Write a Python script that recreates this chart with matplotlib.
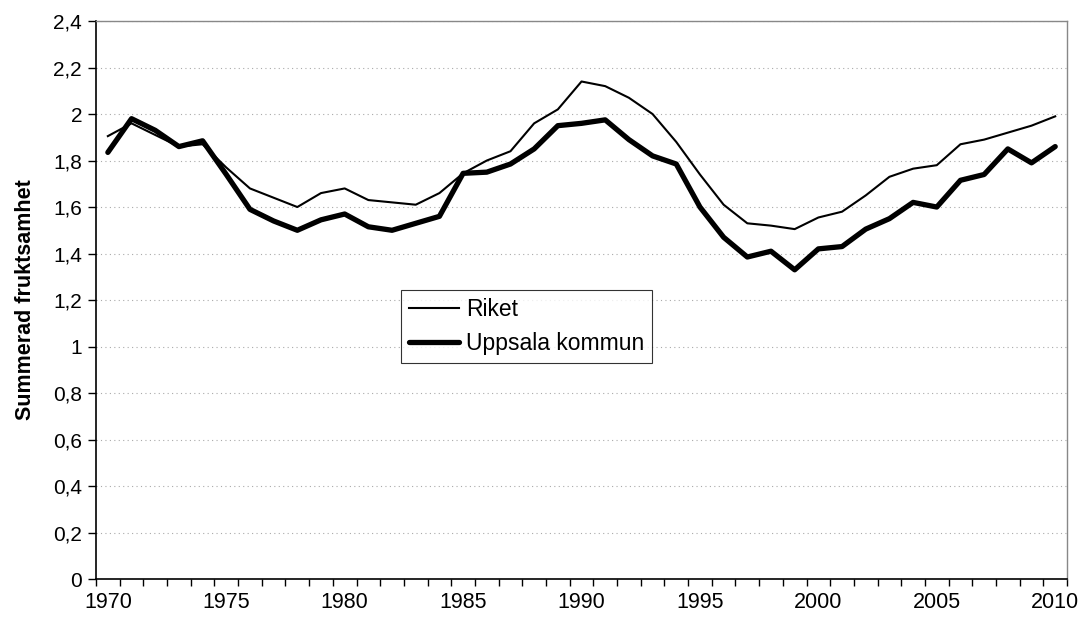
import numpy as np
import matplotlib.pyplot as plt
from matplotlib.ticker import FuncFormatter, MultipleLocator

plt.rcParams['font.family'] = ['Liberation Sans', 'DejaVu Sans']

# Summerad fruktsamhet, 1970-2010
years = list(range(1970, 2011))
riket = [1.905, 1.96, 1.91, 1.86, 1.87, 1.77, 1.68, 1.64, 1.60, 1.66,
         1.68, 1.63, 1.62, 1.61, 1.66, 1.745, 1.80, 1.84, 1.96, 2.02,
         2.14, 2.12, 2.07, 2.00, 1.88, 1.74, 1.61, 1.53, 1.52, 1.505,
         1.555, 1.58, 1.65, 1.73, 1.765, 1.78, 1.87, 1.89, 1.92, 1.95,
         1.99]
uppsala = [1.835, 1.98, 1.93, 1.86, 1.885, 1.74, 1.59, 1.54, 1.50, 1.545,
           1.57, 1.515, 1.50, 1.53, 1.56, 1.745, 1.75, 1.785, 1.85, 1.95,
           1.96, 1.975, 1.89, 1.82, 1.785, 1.60, 1.47, 1.385, 1.41, 1.33,
           1.42, 1.43, 1.505, 1.55, 1.62, 1.60, 1.715, 1.74, 1.85, 1.79,
           1.86]
year_labels = [1970, 1975, 1980, 1985, 1990, 1995, 2000, 2005, 2010]

fig = plt.figure(figsize=(10.8, 6.19), dpi=100)
ax = fig.add_axes([0.0889, 0.0646, 0.8991, 0.9014])

ax.plot(years, riket, color='black', lw=1.5, label='Riket',
        solid_joinstyle='round')
ax.plot(years, uppsala, color='black', lw=3.8, label='Uppsala kommun',
        solid_joinstyle='round', solid_capstyle='round')

ax.set_xlim(years[0] - 0.5, years[-1] + 0.5)
ax.set_ylim(0, 2.4)

# y axis
ax.yaxis.set_major_locator(MultipleLocator(0.2))
ax.yaxis.set_major_formatter(FuncFormatter(
    lambda v, p: f'{round(v, 1):g}'.replace('.', ',')))
ax.grid(axis='y', color='#aaaaaa', linestyle=(0, (1, 3)), lw=0.8)
ax.tick_params(axis='y', direction='out', length=6, width=1, labelsize=15, pad=4)

# x axis: ticks between categories, labels at category centres
ax.set_xticks(np.arange(years[0] - 0.5, years[-1] + 1, 1.0))
ax.set_xticklabels([])
ax.set_xticks(year_labels, minor=True)
ax.set_xticklabels([str(y) for y in year_labels], minor=True)
ax.tick_params(axis='x', which='major', direction='out', length=5, width=1)
ax.tick_params(axis='x', which='minor', length=0, labelsize=15.5, pad=9)

for s in ['left', 'bottom']:
    ax.spines[s].set_color('black')
    ax.spines[s].set_linewidth(1.2)
for s in ['top', 'right']:
    ax.spines[s].set_color('#888888')
    ax.spines[s].set_linewidth(1.0)

ax.set_ylabel('Summerad fruktsamhet', fontsize=15.5, fontweight='bold', labelpad=12)

leg = ax.legend(loc='upper left', bbox_to_anchor=(0.314, 0.518), borderaxespad=0,
                fontsize=16.5, frameon=True, fancybox=False, handlelength=2.2,
                handletextpad=0.3, borderpad=0.35, labelspacing=0.5)
leg.get_frame().set_edgecolor('black')
leg.get_frame().set_linewidth(0.8)

fig.savefig('out.png', dpi=100)
